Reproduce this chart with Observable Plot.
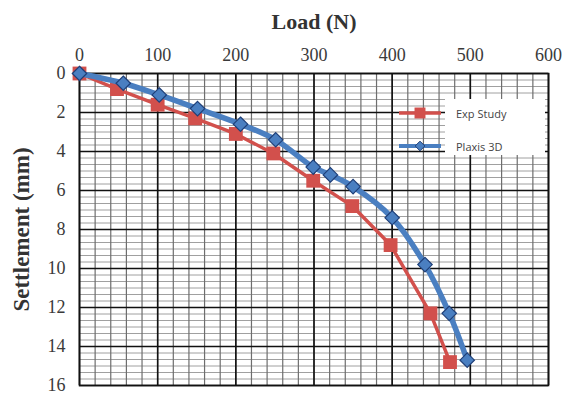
<!DOCTYPE html>
<html>
<head>
<meta charset="utf-8">
<script src="https://cdn.jsdelivr.net/npm/d3@7"></script>
<script src="https://cdn.jsdelivr.net/npm/@observablehq/plot@0.6"></script>
<style>
  html, body { margin: 0; padding: 0; background: #fff; }
  #wrap { position: relative; width: 567px; height: 398px; }
  #legend { position: absolute; left: 398px; top: 99px; width: 147px; height: 56px; font-family: "Open Sans", "Liberation Sans", sans-serif; font-size: 11px; color: #444; }
  #legend .bg { position: absolute; left: 47px; top: 0; width: 100px; height: 56px; background: #fff; }
  #legend .row { position: absolute; left: 0; height: 16px; display: flex; align-items: center; }
  #legend svg { display: block; }
  #legend span { margin-left: 14px; }
  #chart text { font-family: "Liberation Serif", "DejaVu Serif", serif !important; }
</style>
</head>
<body>
<div id="wrap">
  <div id="chart"></div>
  <div id="legend"></div>
</div>
<script>
const seriesNames = ["Exp Study", "Plaxis 3D"];
const expLoad =   [0, 48, 100, 148, 200, 248, 299, 349, 398, 449, 474];
const expSettle = [0, 0.8, 1.6, 2.3, 3.1, 4.1, 5.5, 6.8, 8.8, 12.3, 14.8];
const plxLoad =   [0, 56, 102, 151, 206, 251, 299, 321, 350, 400, 442, 473, 496];
const plxSettle = [0, 0.5, 1.1, 1.8, 2.6, 3.4, 4.8, 5.2, 5.8, 7.4, 9.8, 12.3, 14.7];
const xTicks = [0, 100, 200, 300, 400, 500, 600];
const yTicks = [0, 2, 4, 6, 8, 10, 12, 14, 16];
const xMinor = d3.range(0, 601, 20);
const yMinor = d3.range(0, 48).map(i => i / 3);

const redC = "#d2504c";
const blueC = "#4a7fc1";
const blueEdge = "#1f3f78";
const serif = "'Liberation Serif', 'DejaVu Serif', serif";

const exp = expLoad.map((x, i) => ({x, y: expSettle[i]}));
const plx = plxLoad.map((x, i) => ({x, y: plxSettle[i]}));

const chart = Plot.plot({
  width: 567,
  height: 398,
  marginTop: 73,
  marginBottom: 13,
  marginLeft: 79,
  marginRight: 19,
  style: {fontFamily: serif, fontSize: "18px", color: "#333", background: "#fff"},
  x: {domain: [0, 600]},
  y: {domain: [0, 16], reverse: true},
  marks: [
    Plot.ruleY(yMinor, {y: d => d, stroke: "#a0a0a0", strokeWidth: 1}),
    Plot.ruleX(xMinor, {x: d => d, stroke: "#6e6e6e", strokeWidth: 1.2}),
    Plot.ruleY(yTicks, {y: d => d, stroke: "#111", strokeWidth: 1.6}),
    Plot.ruleX(xTicks, {x: d => d, stroke: "#111", strokeWidth: 1.6}),
    Plot.frame({stroke: "#111", strokeWidth: 1.6}),
    Plot.axisX({anchor: "top", ticks: xTicks, tickSize: 0, tickPadding: 13, label: "Load (N)", labelAnchor: "center", labelArrow: "none", labelOffset: 60, fontSize: 18, fontFamily: serif}),
    Plot.axisY({anchor: "left", ticks: yTicks, tickSize: 0, tickPadding: 14, label: "Settlement (mm)", labelAnchor: "center", labelArrow: "none", labelOffset: 67, fontSize: 18, fontFamily: serif}),
    Plot.line(exp, {x: "x", y: "y", stroke: redC, strokeWidth: 3.5}),
    Plot.dot(exp, {x: "x", y: "y", symbol: "square", r: 7.8, fill: redC, stroke: "none"}),
    Plot.line(plx, {x: "x", y: "y", stroke: blueC, strokeWidth: 5.5, curve: "catmull-rom"}),
    Plot.dot(plx, {x: "x", y: "y", symbol: "diamond2", r: 6.5, fill: blueC, stroke: blueEdge, strokeWidth: 1.2})
  ]
});
document.getElementById("chart").appendChild(chart);

d3.select(chart).selectAll("text").style("font-family", serif);
d3.select(chart).selectAll("[aria-label='x-axis tick label'] text, [aria-label='y-axis tick label'] text")
  .style("font-size", "18px").style("fill", "#3a3a3a");
d3.select(chart).selectAll("[aria-label='x-axis label'] text")
  .style("font-weight", "bold").style("font-size", "22px").style("fill", "#333");
d3.select(chart).selectAll("[aria-label='y-axis label'] text")
  .style("font-weight", "bold").style("font-size", "23px").style("fill", "#333");

// legend
const legend = d3.select("#legend");
legend.append("div").attr("class", "bg");
const legendDefs = [
  {name: seriesNames[0], color: redC, sym: d3.symbolSquare, size: 120, lw: 3.5, top: 6, edge: "none"},
  {name: seriesNames[1], color: blueC, sym: d3.symbolDiamond2, size: 60, lw: 4, top: 39, edge: blueEdge}
];
for (const d of legendDefs) {
  const row = legend.append("div").attr("class", "row").style("top", d.top + "px");
  const s = row.append("svg").attr("width", 44).attr("height", 16);
  s.append("line").attr("x1", 1).attr("x2", 43).attr("y1", 8).attr("y2", 8).attr("stroke", d.color).attr("stroke-width", d.lw);
  s.append("path").attr("transform", "translate(22,8)").attr("d", d3.symbol(d.sym, d.size)()).attr("fill", d.color).attr("stroke", d.edge);
  row.append("span").text(d.name);
}
</script>
</body>
</html>
